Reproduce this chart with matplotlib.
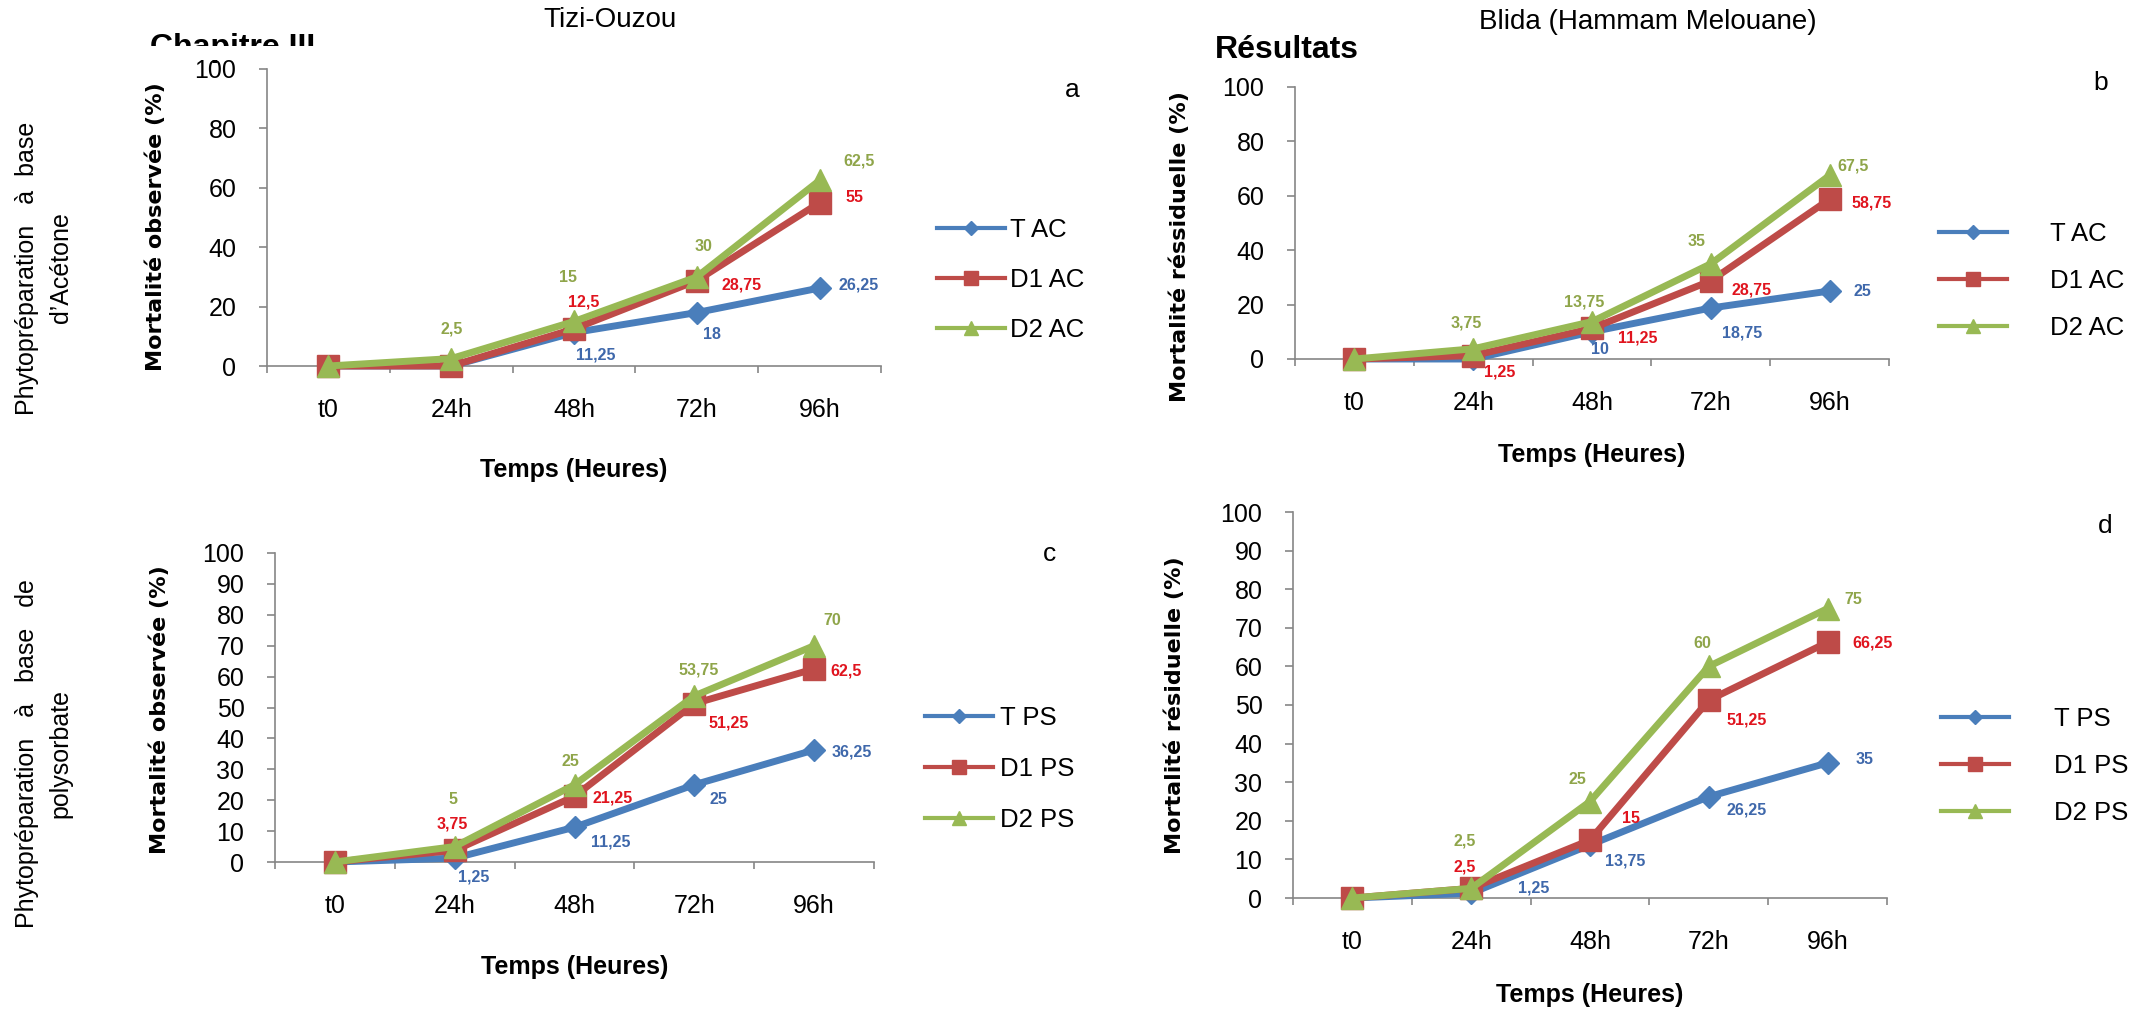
import matplotlib
matplotlib.use('Agg')
import matplotlib.pyplot as plt
from matplotlib.lines import Line2D
from matplotlib.patches import Rectangle

plt.rcParams['font.family'] = ['Liberation Sans', 'DejaVu Sans']

W, H = 2156, 1011

categories = ['t0', '24h', '48h', '72h', '96h']

a_T = [0, 0, 11.25, 18, 26.25]
a_D1 = [0, 0, 12.5, 28.75, 55]
a_D2 = [0, 2.5, 15, 30, 62.5]

b_T = [0, 0, 10, 18.75, 25]
b_D1 = [0, 1.25, 11.25, 28.75, 58.75]
b_D2 = [0, 3.75, 13.75, 35, 67.5]

c_T = [0, 1.25, 11.25, 25, 36.25]
c_D1 = [0, 3.75, 21.25, 51.25, 62.5]
c_D2 = [0, 5, 25, 53.75, 70]

d_T = [0, 1.25, 13.75, 26.25, 35]
d_D1 = [0, 2.5, 15, 51.25, 66.25]
d_D2 = [0, 2.5, 25, 60, 75]

legend_ac = ['T AC', 'D1 AC', 'D2 AC']
legend_ps = ['T PS', 'D1 PS', 'D2 PS']

# label offsets in pixels (dx right, dy down); None = no label
a_T_off = [None, None, (22, 22), (15, 22), (39, -3)]
a_D1_off = [None, None, (10, -27), (45, 4), (35, -5)]
a_D2_off = [None, (0, -30), (-6, -44), (7, -30), (39, -19)]
b_T_off = [None, None, (8, 18), (31, 25), (33, 0)]
b_D1_off = [None, (26, 16), (46, 10), (41, 9), (42, 4)]
b_D2_off = [None, (-7, -26), (-8, -20), (-14, -22), (23, -9)]
c_T_off = [None, (19, 19), (36, 15), (24, 15), (38, 2)]
c_D1_off = [None, (-2, -26), (38, 2), (34, 19), (32, 2)]
c_D2_off = [None, (-2, -47), (-4, -23), (4, -26), (18, -25)]
d_T_off = [None, (62, -5), (35, 16), (38, 13), (37, -3)]
d_D1_off = [None, (-7, -21), (41, -22), (38, 20), (45, 1)]
d_D2_off = [None, (-7, -47), (-13, -22), (-6, -23), (26, -9)]

line_colors = ['#4A7EBB', '#BE4B48', '#98B954']
label_colors = ['#3F68AB', '#E0141E', '#8FA54A']
markers = ['D', 's', '^']
msizes = [11, 16, 16]
leg_msizes = [7, 10.5, 10.5]

fig = plt.figure(figsize=(W / 100, H / 100), dpi=100)


def rect(l, t, r, b):
    return [l / W, 1 - b / H, (r - l) / W, (b - t) / H]


panels = [
    dict(box=(267, 69, 881, 366), series=[a_T, a_D1, a_D2], offs=[a_T_off, a_D1_off, a_D2_off],
         names=legend_ac, ystep=20, ylabel='Mortalité observée (%)', ylab=(-0.182, 0.47),
         xlab_y=-0.350, leg=(1.070, 0.29), htp=0.2, lsp=1.0, letter='a', letter_xy=(1072, 97)),
    dict(box=(1295, 87, 1889, 359), series=[b_T, b_D1, b_D2], offs=[b_T_off, b_D1_off, b_D2_off],
         names=legend_ac, ystep=20, ylabel='Mortalité réssiduelle (%)', ylab=(-0.194, 0.415),
         xlab_y=-0.353, leg=(1.062, 0.287), htp=1.7, lsp=0.91, letter='b', letter_xy=(2101, 90)),
    dict(box=(275, 553, 874, 862), series=[c_T, c_D1, c_D2], offs=[c_T_off, c_D1_off, c_D2_off],
         names=legend_ps, ystep=10, ylabel='Mortalité observée (%)', ylab=(-0.192, 0.492),
         xlab_y=-0.340, leg=(1.063, 0.301), htp=0.27, lsp=1.05, letter='c', letter_xy=(1049, 561)),
    dict(box=(1293, 512, 1887, 898), series=[d_T, d_D1, d_D2], offs=[d_T_off, d_D1_off, d_D2_off],
         names=legend_ps, ystep=10, ylabel='Mortalité résiduelle (%)', ylab=(-0.199, 0.50),
         xlab_y=-0.251, leg=(1.069, 0.342), htp=1.75, lsp=0.88, letter='d', letter_xy=(2105, 533)),
]

x = list(range(len(categories)))
for p in panels:
    ax = fig.add_axes(rect(*p['box']))
    for i, vals in enumerate(p['series']):
        ax.plot(x, vals, color=line_colors[i], lw=5, marker=markers[i], ms=msizes[i],
                mfc=line_colors[i], mec=line_colors[i], clip_on=False, zorder=3 + i)
        for xi, v, off in zip(x, vals, p['offs'][i]):
            if off is None:
                continue
            txt = f"{v:g}".replace('.', ',')
            ax.annotate(txt, (xi, v), xytext=(off[0], -off[1]), textcoords='offset pixels',
                        ha='center', va='center', fontsize=11.5, fontweight='bold',
                        color=label_colors[i], zorder=10, annotation_clip=False)
    ax.set_xlim(-0.5, len(categories) - 0.5)
    ax.set_ylim(0, 100)
    ax.set_yticks(range(0, 101, p['ystep']))
    ax.set_xticks(x)
    ax.set_xticklabels(categories)
    ax.set_xticks([k - 0.5 for k in range(len(categories) + 1)], minor=True)
    ax.tick_params(axis='x', which='major', length=0, pad=23, labelsize=18)
    ax.tick_params(axis='x', which='minor', length=5, width=1.2, color='#868686', direction='out')
    ax.tick_params(axis='y', length=6, width=1.2, color='#868686', pad=16, labelsize=18)
    for s in ['top', 'right']:
        ax.spines[s].set_visible(False)
    for s in ['left', 'bottom']:
        ax.spines[s].set_color('#868686')
        ax.spines[s].set_linewidth(1.2)
    ax.text(p['ylab'][0], p['ylab'][1], p['ylabel'], transform=ax.transAxes, rotation=90,
            ha='center', va='center', rotation_mode='anchor', fontsize=16, fontweight='bold',
            family=['DejaVu Sans'])
    ax.text(0.5, p['xlab_y'], 'Temps (Heures)', transform=ax.transAxes, ha='center', va='center',
            fontsize=18, fontweight='bold')
    handles = [Line2D([], [], color=line_colors[i], lw=3, marker=markers[i], ms=leg_msizes[i],
                      mfc=line_colors[i], mec=line_colors[i]) for i in range(3)]
    ax.legend(handles, p['names'], loc='center left', bbox_to_anchor=p['leg'], frameon=False,
              fontsize=18.5, borderpad=0, handlelength=2.65, handletextpad=p['htp'],
              labelspacing=p['lsp'], numpoints=1)
    lx, ly = p['letter_xy']
    fig.text(lx / W, 1 - ly / H, p['letter'], ha='center', va='baseline', fontsize=19)

# column titles
fig.text(610 / W, 1 - 20 / H, 'Tizi-Ouzou', ha='center', va='center', fontsize=20)
fig.text(1648 / W, 1 - 22 / H, 'Blida (Hammam Melouane)', ha='center', va='center', fontsize=20)

# row labels
fig.text(44 / W, 1 - 268 / H, 'Phytopréparation   à  base\nd’Acétone', rotation=90, ha='center',
         va='center', multialignment='center', fontsize=18, linespacing=1.5)
fig.text(44 / W, 1 - 754 / H, 'Phytopréparation   à   base   de\npolysorbate', rotation=90,
         ha='center', va='center', multialignment='center', fontsize=18, linespacing=1.5)

# page header remnants
fig.text(150 / W, 1 - 56 / H, 'Chapitre III', ha='left', va='baseline', fontsize=23, fontweight='bold')
fig.patches.append(Rectangle((140 / W, 1 - 60 / H), 200 / W, 14 / H, transform=fig.transFigure,
                             facecolor='white', edgecolor='none', zorder=5))
fig.text(1215 / W, 1 - 58 / H, 'Résultats', ha='left', va='baseline', fontsize=23, fontweight='bold')

fig.savefig('out.png', dpi=100)
